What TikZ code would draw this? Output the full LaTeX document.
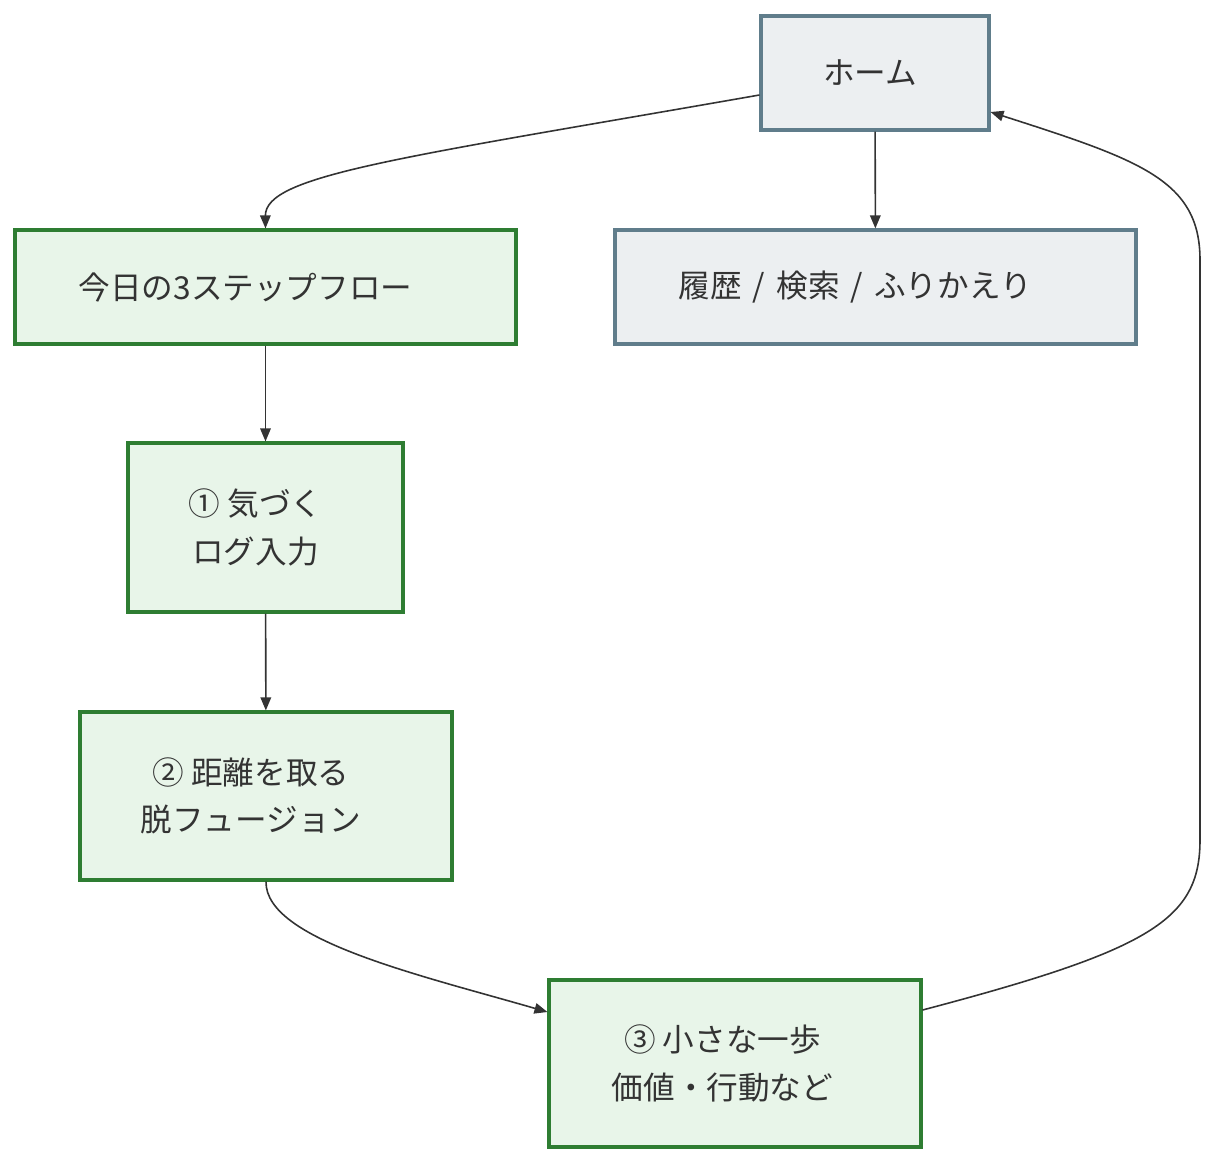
\documentclass[tikz,border=0pt]{standalone}
\usepackage{fontspec}
\setmainfont{Noto Sans CJK JP}
\usetikzlibrary{arrows.meta}

\definecolor{homeFill}{HTML}{ECEFF1}
\definecolor{homeLine}{HTML}{607D8B}
\definecolor{stepFill}{HTML}{E8F5E9}
\definecolor{stepLine}{HTML}{2E7D32}
\definecolor{edgeLine}{HTML}{333333}

\begin{document}
\begin{tikzpicture}
[x=0.02cm,y=-0.02cm,
  homeDecorate/.style={shape=rectangle,draw=homeLine,fill=homeFill,line width=1.8pt,
    inner sep=0pt,align=center,text=edgeLine,font=\fontsize{18}{27}\selectfont},%
  stepDecorate/.style={shape=rectangle,draw=stepLine,fill=stepFill,line width=1.8pt,
    inner sep=0pt,align=center,text=edgeLine,font=\fontsize{18}{27}\selectfont},%
  lineDecorate/.style={draw=edgeLine,line width=0.9pt,-{Triangle[length=0.26cm,width=0.21cm]}}]
\useasboundingbox (0,0) rectangle (1221,1164);
%% nodes
\node (home) at (875,73) [homeDecorate,minimum width=4.56cm,minimum height=2.28cm] {ホーム\hspace*{0.2cm}};
\node (history) at (875.5,287) [homeDecorate,minimum width=10.42cm,minimum height=2.28cm] {履歴\hspace{0.35em}/\hspace{0.35em}検索\hspace{0.35em}/\hspace{0.35em}ふりかえり\hspace*{0.8cm}};
\node (flow) at (265.5,287) [stepDecorate,minimum width=10.02cm,minimum height=2.28cm] {今日の3ステップフロー\hspace*{0.8cm}};
\node (notice) at (265.5,527.5) [stepDecorate,minimum width=5.5cm,minimum height=3.38cm] {① 気づく\hspace*{0.4cm}\\ログ入力\hspace*{0.4cm}};
\node (defuse) at (266,796) [stepDecorate,minimum width=7.44cm,minimum height=3.36cm] {② 距離を取る\hspace*{0.6cm}\\脱フュージョン\hspace*{0.6cm}};
\node (action) at (735,1063.5) [stepDecorate,minimum width=7.44cm,minimum height=3.34cm] {③ 小さな一歩\hspace*{0.5cm}\\価値・行動など\hspace*{0.5cm}};
%% edges
\coordinate (homeL) at ([yshift=-0.44cm]home.west);
\coordinate (homeR) at ([yshift=-0.78cm]home.east);
\coordinate (actionL) at ([yshift=1.03cm]action.west);
\coordinate (actionR) at ([yshift=1.07cm]action.east);
\draw[lineDecorate] (homeL) .. controls (400,158) and (265,175) .. (flow.north);
\draw[lineDecorate] (home) -- (history);
\draw[lineDecorate] (flow) -- (notice);
\draw[lineDecorate] (notice) -- (defuse);
\draw[lineDecorate] (defuse.south) .. controls (265,940) and (420,975) .. (actionL);
\draw[lineDecorate] (actionR) .. controls (1150,950) and (1200,920) .. (1200,840)
  -- (1200,260) .. controls (1200,180) and (1140,160) .. (homeR);
\end{tikzpicture}
\end{document}
